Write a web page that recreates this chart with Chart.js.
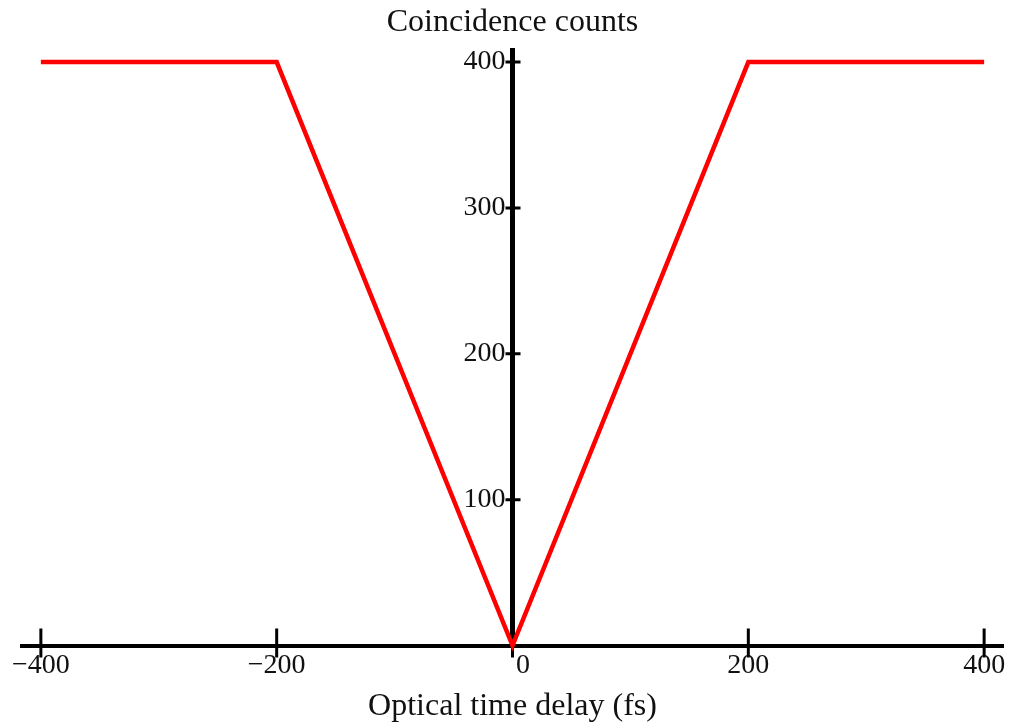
<!DOCTYPE html>
<html lang="en">
<head>
  <meta charset="UTF-8">
  <title>Coincidence counts vs optical time delay</title>
  <script src="https://cdn.jsdelivr.net/npm/chart.js"></script>
  <style>
    body {
      margin: 0;
      padding: 0;
      background: #fff;
    }

    .chart-box {
      position: relative;
      width: 1009px;
      height: 728px;
    }
  </style>
</head>
<body>
  <div class="chart-box">
    <canvas id="dipChart"></canvas>
  </div>

  <script>
    // HOM dip: coincidence counts against optical time delay
    const delays = [-400, -200, 0, 200, 400];
    const counts = [400, 400, 0, 400, 400];

    const xTicks = [-400, -200, 0, 200, 400];
    const yTicks = [100, 200, 300, 400];

    const serif = "'Liberation Serif', 'Times New Roman', serif";

    // Small tick marks that cross both axes (Mathematica style)
    const crossTicks = {
      id: 'crossTicks',
      beforeDatasetsDraw(chart) {
        const { ctx, scales: { x, y } } = chart;
        const x0 = x.getPixelForValue(0);
        const y0 = y.getPixelForValue(0);
        ctx.save();
        ctx.strokeStyle = '#000';
        ctx.lineWidth = 3;
        ctx.beginPath();
        xTicks.forEach(v => {
          const px = x.getPixelForValue(v);
          ctx.moveTo(px, y0 - 17);
          ctx.lineTo(px, y0 + 12);
        });
        yTicks.forEach(v => {
          const py = y.getPixelForValue(v);
          ctx.moveTo(x0 - 7, py);
          ctx.lineTo(x0 + 8, py);
        });
        ctx.stroke();
        ctx.restore();
      }
    };

    const ctx = document.getElementById('dipChart').getContext('2d');
    const dipChart = new Chart(ctx, {
      type: 'scatter',
      data: {
        datasets: [{
          data: delays.map((d, i) => ({ x: d, y: counts[i] })),
          showLine: true,
          borderColor: '#ff0000',
          borderWidth: 4.5,
          pointRadius: 0,
          tension: 0,
          clip: 10
        }]
      },
      options: {
        responsive: true,
        maintainAspectRatio: false,
        animation: false,
        layout: {
          padding: { left: 22, right: 6, top: 0, bottom: 0 }
        },
        plugins: {
          legend: { display: false },
          tooltip: { enabled: false },
          title: {
            display: true,
            text: 'Coincidence counts',
            color: '#111',
            font: { family: serif, size: 32, weight: 'normal', lineHeight: 1.2 },
            padding: { top: 3, bottom: 9 }
          },
          subtitle: {
            display: true,
            position: 'bottom',
            text: 'Optical time delay (fs)',
            color: '#111',
            font: { family: serif, size: 32, weight: 'normal', lineHeight: 1.2 },
            padding: { top: 42, bottom: 2 }
          }
        },
        scales: {
          x: {
            type: 'linear',
            position: { y: 0 },
            min: -416,
            max: 416,
            afterBuildTicks: scale => {
              scale.ticks = xTicks.map(v => ({ value: v }));
            },
            grid: { display: false, drawTicks: false },
            border: { display: true, color: '#000', width: 4 },
            ticks: {
              color: '#111',
              font: { family: serif, size: 28 },
              padding: 3,
              maxRotation: 0,
              autoSkip: false,
              // nudge the zero label off the vertical axis
              callback: v => v === 0 ? '   0' : (v < 0 ? '\u2212' + Math.abs(v) : String(v))
            }
          },
          y: {
            type: 'linear',
            position: { x: 0 },
            min: 0,
            max: 408,
            afterBuildTicks: scale => {
              scale.ticks = yTicks.map(v => ({ value: v }));
            },
            grid: { display: false, drawTicks: false },
            border: { display: true, color: '#000', width: 5 },
            ticks: {
              color: '#111',
              font: { family: serif, size: 28 },
              autoSkip: false,
              // trailing space keeps the numbers clear of the axis line
              callback: v => v + ' '
            }
          }
        }
      },
      plugins: [crossTicks]
    });
  </script>
</body>
</html>
